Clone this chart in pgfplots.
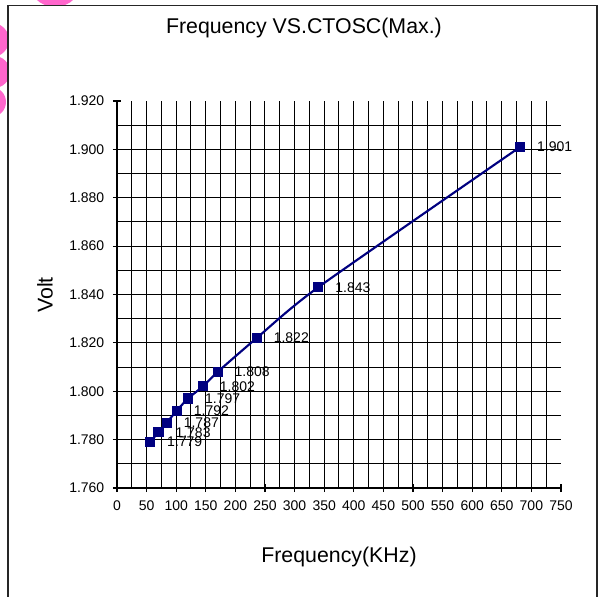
\documentclass[border=0pt]{standalone}
\usepackage{pgfplots}
\pgfplotsset{compat=1.18}
\usepackage{fontspec}
\setmainfont{Liberation Sans}

\definecolor{navyline}{RGB}{0,0,128}
\definecolor{wmpink}{RGB}{255,102,204}

\begin{document}
\begin{tikzpicture}[x=0.75pt,y=0.75pt]
% picture area, in pixels of the reference (y measured from the bottom)
\clip (0,0) rectangle (603,596);
\fill[white] (0,0) rectangle (603,596);
% pink watermark fragments
\fill[wmpink] (55,616) circle (27);
\fill[wmpink] (-8,556) circle (17);
\fill[wmpink] (-6,524) circle (16);
\fill[wmpink] (-9,494) circle (15);
% frame round the chart
\draw[line width=1.1pt, black!85, fill=white] (8,590.5) rectangle (597,-20);

\begin{axis}[
  at={(87.75pt,81pt)}, anchor=south west,
  scale only axis, width=333pt, height=290.25pt,
  xmin=0, xmax=750, ymin=1.76, ymax=1.92,
  axis x line*=bottom, axis y line*=left,
  axis line style={-, black, line width=0.8pt},
  xtick={0,50,...,750},
  ytick={1.76,1.78,1.80,1.82,1.84,1.86,1.88,1.90,1.92},
  /pgf/number format/assume math mode=true,
  tick label style={font=\fontsize{10.5}{12}\selectfont},
  xticklabel style={yshift=-3pt},
  yticklabel style={xshift=-3pt, /pgf/number format/.cd, fixed, fixed zerofill, precision=3},
  tick align=center, major tick length=6pt,
  tick style={black, line width=0.8pt},
  extra x ticks={25,50,...,725},
  extra y ticks={1.77,1.78,1.79,1.80,1.81,1.82,1.83,1.84,1.85,1.86,1.87,1.88,1.89,1.90,1.91},
  extra x tick style={grid=major, xticklabel={}, major tick length=0pt},
  extra y tick style={grid=major, yticklabel={}, major tick length=0pt},
  major grid style={draw=black, line width=0.75pt},
  title={Frequency VS.CTOSC(Max.)},
  title style={at={(axis description cs:0.421,1.168)}, anchor=center, font=\fontsize{16}{18}\selectfont},
  xlabel={Frequency(KHz)},
  xlabel style={at={(axis description cs:0.5,-0.178)}, anchor=center, font=\fontsize{16}{18}\selectfont},
  ylabel={Volt},
  ylabel style={at={(axis description cs:-0.162,0.499)}, anchor=center, font=\fontsize{16}{18}\selectfont},
  clip=false,
  nodes near coords,
  point meta=explicit symbolic,
  every node near coord/.append style={anchor=west, inner sep=0pt, xshift=12pt, yshift=0pt, font=\fontsize{10.5}{12}\selectfont, black},
]
\addplot[navyline, line width=1.6pt, smooth, tension=0.4, mark=square*, mark size=3pt, mark options={navyline}]
  coordinates {
    (56,1.779)  [1.779]
    (70,1.783)  [1.783]
    (84,1.787)  [1.787]
    (101,1.792) [1.792]
    (120,1.797) [1.797]
    (145,1.802) [1.802]
    (170,1.808) [1.808]
    (236,1.822) [1.822]
    (340,1.843) [1.843]
    (681,1.901) [1.901]
  };
\end{axis}
\end{tikzpicture}
\end{document}
